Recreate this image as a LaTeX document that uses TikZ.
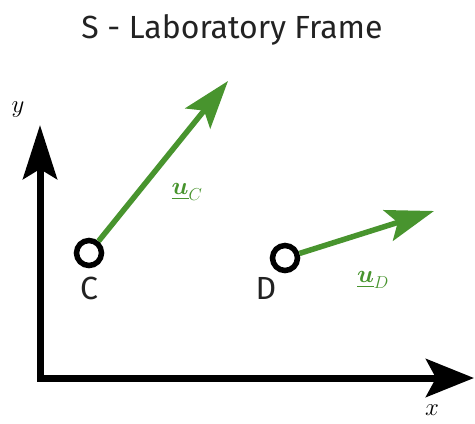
\documentclass[tikz,border=0pt]{standalone}
\usepackage{amsmath,amssymb}
\usepackage{fontspec}
\setsansfont{Fira Sans}
\usetikzlibrary{
  arrows.meta,
  positioning,
}
\definecolor{velGreen}{RGB}{72,148,46}
\definecolor{titleInk}{HTML}{222222}
\tikzset{
  particle/.style={
    circle, draw=black, line width=5.5pt, minimum size=25pt, inner sep=0pt,
  },
  axisLine/.style={
    {Stealth[length=54pt,width=34pt,inset=10pt]}-{Stealth[length=48pt,width=38pt,inset=10pt]},
    line width=7pt, line join=miter,
  },
  velArrow/.style={
    -{Stealth[length=48pt,width=32pt,inset=10pt]}, line width=5.5pt, draw=velGreen,
  },
  sansLabel/.style={
    font=\sffamily\fontsize{32}{36}\selectfont, text=titleInk, inner sep=0pt,
  },
  mathLabel/.style={
    font=\fontsize{26}{30}\selectfont, inner sep=0pt,
  },
}

\begin{document}
\begin{tikzpicture}[x=1pt,y=-1pt]
\useasboundingbox (0,0) rectangle (475,424);

% title
\node[sansLabel, anchor=base] (title) at (232,38) {S - Laboratory Frame};

% axes
\coordinate (origin) at (40,378);
\coordinate (yTip) at (40,125);
\coordinate (xTip) at (474,378);
\draw[axisLine] (yTip) -- (origin) -- (xTip);
\node[mathLabel] (yLabel) at (18,110) {$y$};
\node[mathLabel] (xLabel) at (432,410) {$x$};

% particles
\node[particle] (C) at (89,253) {};
\node[particle] (D) at (285,258) {};
\node[sansLabel] (Clabel) at (89,288) {C};
\node[sansLabel] (Dlabel) at (266,288) {D};

% velocities
\coordinate (uCtip) at (228,81);
\coordinate (uDtip) at (434,211);
\draw[velArrow] (C) -- (uCtip);
\draw[velArrow] (D) -- (uDtip);
\node[mathLabel, text=velGreen] (uC) at (187,192) {$\underline{\boldsymbol{u}}_C$};
\node[mathLabel, text=velGreen] (uD) at (373,280) {$\underline{\boldsymbol{u}}_D$};
\end{tikzpicture}
\end{document}
